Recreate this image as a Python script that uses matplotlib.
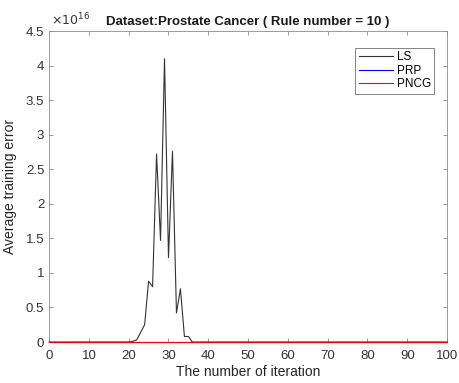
import numpy as np
import matplotlib.pyplot as plt
from matplotlib.ticker import FuncFormatter

# iteration axis and training error curves (LS blows up around iter 20-36)
iters = np.arange(0, 101)
ls_peak_iters = [20, 21, 22, 23, 24, 25, 26, 27, 28, 29, 30, 31, 32, 33, 34, 35, 36]
ls_peak_vals = [0.0, 0.01, 0.03, 0.14, 0.25, 0.88, 0.80, 2.72, 1.47, 4.10,
                1.22, 2.76, 0.42, 0.77, 0.08, 0.08, 0.0]  # x 1e16

ls = np.zeros(len(iters))
for it, v in zip(ls_peak_iters, ls_peak_vals):
    ls[it] = v * 1e16
prp = np.zeros(len(iters))
pncg = np.zeros(len(iters))

plt.rcParams['font.family'] = ['Liberation Sans', 'DejaVu Sans']
plt.rcParams['axes.edgecolor'] = '#8c8c8c'
plt.rcParams['xtick.color'] = '#8c8c8c'
plt.rcParams['ytick.color'] = '#8c8c8c'
plt.rcParams['xtick.labelcolor'] = '#333333'
plt.rcParams['ytick.labelcolor'] = '#333333'

fig = plt.figure(figsize=(4.59, 3.83), dpi=100)
ax = fig.add_axes([0.107, 0.107, 0.867, 0.812])

ax.plot(iters, ls, color='#333333', lw=0.8, label='LS', zorder=3, clip_on=False)
ax.plot(iters, prp, color='#0000ff', lw=0.8, label='PRP', zorder=3, clip_on=False)
ax.plot(iters, pncg, color='#ff0000', lw=0.8, label='PNCG', zorder=3, clip_on=False)

ax.set_xlim(0, 100)
ax.set_ylim(0, 4.5e16)
ax.set_xticks(np.arange(0, 101, 10))
ax.set_yticks(np.arange(0, 4.51e16, 0.5e16))
ax.yaxis.set_major_formatter(FuncFormatter(lambda v, p: '%g' % (v / 1e16)))
ax.text(0.005, 1.008, r'$\times10^{16}$', transform=ax.transAxes, fontsize=9,
        color='#333333', ha='left', va='bottom')

ax.tick_params(direction='in', top=True, right=True, labelsize=9.5, length=3, width=0.6)
ax.tick_params(axis='x', pad=6)
for s in ax.spines.values():
    s.set_linewidth(0.6)

ax.set_xlabel('The number of iteration', fontsize=10, color='#262626', labelpad=2)
ax.set_ylabel('Average training error', fontsize=10, color='#262626', labelpad=6)
ax.set_title('Dataset:Prostate Cancer ( Rule number = 10 )', fontsize=9.5,
             fontweight='bold', color='#1a1a1a', pad=4)

leg = ax.legend(loc='upper right', fontsize=8.5, fancybox=False, framealpha=1,
                edgecolor='#707070', handlelength=2.9, borderpad=0.3,
                labelspacing=0.12, handletextpad=0.3,
                bbox_to_anchor=(0.983, 0.965))
leg.get_frame().set_linewidth(0.6)

fig.savefig('out.png', dpi=100)
